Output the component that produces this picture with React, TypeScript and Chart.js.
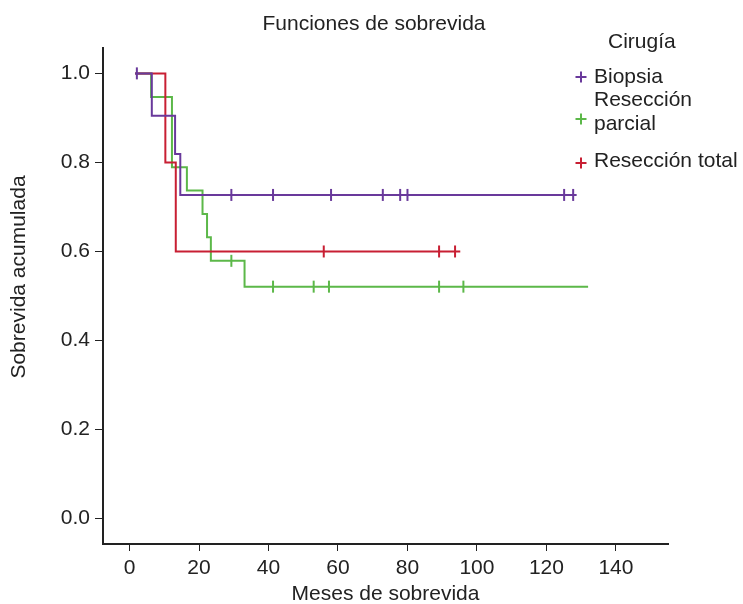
import React, { useEffect, useRef } from "react";
import { Chart, registerables } from "chart.js";

Chart.register(...registerables);

const chartTitle = "Funciones de sobrevida";
const xTitle = "Meses de sobrevida";
const yTitle = "Sobrevida acumulada";
const legendTitle = "Cirugía";
const groupNames = ["Biopsia", "Resección parcial", "Resección total"];
const groupColors = ["#69399b", "#5cb849", "#c81f33"];

const xTicks = [0, 20, 40, 60, 80, 100, 120, 140];
const yTicks = [0, 0.2, 0.4, 0.6, 0.8, 1.0];

// Biopsia
const biopsiaT = [1.6, 6.4, 13.1, 14.6, 128.7];
const biopsiaS = [1.0, 0.905, 0.819, 0.727, 0.727];
const biopsiaCensT = [2.1, 29.3, 41.3, 58.0, 72.9, 77.9, 80.0, 125.1, 127.7];
const biopsiaCensS = [1.0, 0.727, 0.727, 0.727, 0.727, 0.727, 0.727, 0.727, 0.727];

// Resección parcial
const parcialT = [1.6, 6.2, 12.2, 16.5, 21.0, 22.3, 23.4, 33.1, 132.0];
const parcialS = [1.0, 0.947, 0.789, 0.737, 0.684, 0.632, 0.579, 0.521, 0.521];
const parcialCensT = [29.3, 41.3, 53.0, 57.4, 89.1, 96.1];
const parcialCensS = [0.579, 0.521, 0.521, 0.521, 0.521, 0.521];

// Resección total
const totalT = [1.6, 10.3, 13.3, 95.2];
const totalS = [1.0, 0.8, 0.6, 0.6];
const totalCensT = [55.9, 89.1, 93.7];
const totalCensS = [0.6, 0.6, 0.6];

const FONT_FAMILY = '"Liberation Sans", Arial, Helvetica, sans-serif';
const TEXT_COLOR = "#222222";
const AXIS_COLOR = "#222222";

const toPts = (t: number[], s: number[]) => t.map((v, i) => ({ x: v, y: s[i] }));

const overlayPlugin = {
  id: "overlayText",
  afterDraw(chart: any) {
    const ctx = chart.ctx as CanvasRenderingContext2D;
    ctx.save();
    ctx.fillStyle = TEXT_COLOR;
    ctx.font = `21px ${FONT_FAMILY}`;
    ctx.textBaseline = "alphabetic";

    // Title
    ctx.textAlign = "center";
    ctx.fillText(chartTitle, 374, 30);

    // X axis title
    const ca = chart.chartArea;
    ctx.fillText(xTitle, (ca.left + ca.right) / 2, 600);

    // Y axis title
    ctx.save();
    ctx.translate(25, 277);
    ctx.rotate(-Math.PI / 2);
    ctx.fillText(yTitle, 0, 0);
    ctx.restore();

    // Legend
    ctx.textAlign = "left";
    ctx.fillText(legendTitle, 608, 48);
    const plusPos = [77, 119, 163];
    const lines: string[][] = [["Biopsia"], ["Resección", "parcial"], ["Resección total"]];
    const baselines: number[][] = [[83], [106, 130], [167]];
    for (let i = 0; i < groupNames.length; i++) {
      ctx.strokeStyle = groupColors[i];
      ctx.lineWidth = 2;
      ctx.beginPath();
      ctx.moveTo(575.5, plusPos[i]);
      ctx.lineTo(586.5, plusPos[i]);
      ctx.moveTo(581, plusPos[i] - 5.5);
      ctx.lineTo(581, plusPos[i] + 5.5);
      ctx.stroke();
      ctx.fillStyle = TEXT_COLOR;
      lines[i].forEach((txt, j) => ctx.fillText(txt, 594, baselines[i][j]));
    }
    ctx.restore();
  },
};

export default function App() {
  const canvasRef = useRef<HTMLCanvasElement | null>(null);

  useEffect(() => {
    if (!canvasRef.current) return;
    const lineDs = (label: string, data: any[], color: string) => ({
      type: "line" as const,
      label,
      data,
      borderColor: color,
      backgroundColor: color,
      borderWidth: 2,
      pointRadius: 0,
      stepped: true,
      fill: false,
      tension: 0,
    });
    const censDs = (label: string, data: any[], color: string) => ({
      type: "scatter" as const,
      label,
      data,
      borderColor: color,
      backgroundColor: color,
      pointStyle: "line",
      rotation: 90,
      pointRadius: 6,
      pointBorderWidth: 2,
      borderWidth: 2,
      showLine: false,
    });

    const chart = new Chart(canvasRef.current, {
      type: "scatter",
      data: {
        datasets: [
          censDs(groupNames[0] + " censurado", toPts(biopsiaCensT, biopsiaCensS), groupColors[0]),
          censDs(groupNames[2] + " censurado", toPts(totalCensT, totalCensS), groupColors[2]),
          censDs(groupNames[1] + " censurado", toPts(parcialCensT, parcialCensS), groupColors[1]),
          lineDs(groupNames[0], toPts(biopsiaT, biopsiaS), groupColors[0]),
          lineDs(groupNames[2], toPts(totalT, totalS), groupColors[2]),
          lineDs(groupNames[1], toPts(parcialT, parcialS), groupColors[1]),
        ] as any,
      },
      options: {
        responsive: false,
        animation: false,
        events: [],
        devicePixelRatio: 1,
        layout: { padding: { top: 48, right: 75, left: 0, bottom: 0 } },
        plugins: {
          legend: { display: false },
          title: { display: false },
          tooltip: { enabled: false },
        },
        scales: {
          x: {
            type: "linear",
            min: -7.65,
            max: 155,
            afterBuildTicks: (scale: any) => {
              scale.ticks = xTicks.map((v) => ({ value: v }));
            },
            afterFit: (scale: any) => {
              scale.height = 60;
            },
            grid: {
              drawOnChartArea: false,
              drawTicks: true,
              tickLength: 7,
              color: AXIS_COLOR,
              lineWidth: 1,
            },
            border: { display: true, color: AXIS_COLOR, width: 2 },
            ticks: {
              autoSkip: false,
              maxRotation: 0,
              padding: 5,
              color: TEXT_COLOR,
              font: { family: FONT_FAMILY, size: 21 },
              callback: (v: any) => String(v),
            },
            title: { display: false },
          },
          y: {
            type: "linear",
            min: -0.057,
            max: 1.057,
            afterBuildTicks: (scale: any) => {
              scale.ticks = yTicks.map((v) => ({ value: v }));
            },
            afterFit: (scale: any) => {
              scale.width = 103;
            },
            grid: {
              drawOnChartArea: false,
              drawTicks: true,
              tickLength: 8,
              color: AXIS_COLOR,
              lineWidth: 1,
            },
            border: { display: true, color: AXIS_COLOR, width: 2 },
            ticks: {
              autoSkip: false,
              padding: 5,
              color: TEXT_COLOR,
              font: { family: FONT_FAMILY, size: 21 },
              callback: (v: any) => Number(v).toFixed(1),
            },
            title: { display: false },
          },
        },
      },
      plugins: [overlayPlugin],
    } as any);

    return () => chart.destroy();
  }, []);

  return (
    <div style={{ position: "fixed", left: 0, top: 0, width: 743, height: 604, background: "#fff" }}>
      <canvas ref={canvasRef} width={743} height={604} style={{ width: 743, height: 604 }} />
    </div>
  );
}
